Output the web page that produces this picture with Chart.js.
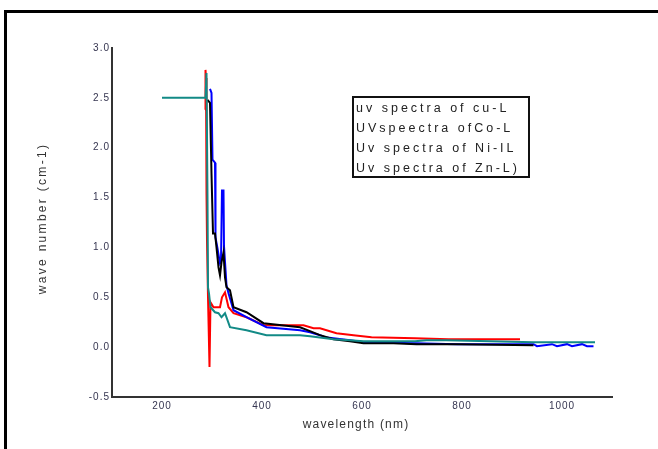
<!DOCTYPE html>
<html>
<head>
<meta charset="utf-8">
<script src="https://cdn.jsdelivr.net/npm/chart.js@4/dist/chart.umd.min.js"></script>
<style>
  html, body { margin: 0; padding: 0; background: #fff; }
  #wrap { width: 658px; height: 449px; position: relative; }
</style>
</head>
<body>
<div id="wrap"><canvas id="uv-chart"></canvas></div>
<script>
// wavelength (nm) / wave number values
const cuX = [291, 296, 299, 302, 306, 309, 313, 316, 319, 323, 326, 329, 336, 343, 369, 403, 476, 496, 516, 543, 576, 603, 663, 709, 789, 943];
const cuY = [2.48, 2.45, 1.74, 1.14, 1.14, 1.0, 0.80, 0.72, 0.85, 0.95, 0.70, 0.60, 0.57, 0.40, 0.35, 0.24, 0.20, 0.16, 0.12, 0.08, 0.06, 0.04, 0.04, 0.03, 0.03, 0.02];

const coX = [296, 299, 301, 306, 307, 311, 316, 318, 320, 323, 324, 329, 333, 343, 369, 409, 476, 496, 516, 526, 543, 576, 603, 709, 789, 943, 950, 980, 990, 1010, 1020, 1040, 1050, 1063];
const coY = [2.59, 2.55, 1.88, 1.85, 1.10, 0.99, 0.84, 0.86, 1.57, 1.57, 1.01, 0.62, 0.54, 0.37, 0.30, 0.20, 0.17, 0.15, 0.12, 0.10, 0.09, 0.07, 0.05, 0.04, 0.03, 0.03, 0.01, 0.03, 0.01, 0.03, 0.01, 0.03, 0.01, 0.01];

const niX = [286, 287, 288, 289, 290, 292, 295, 297, 303, 316, 320, 326, 333, 343, 369, 403, 483, 503, 516, 549, 583, 619, 706, 773, 916];
const niY = [2.38, 2.78, 2.70, 1.54, 1.07, 0.50, -0.20, 0.45, 0.40, 0.40, 0.50, 0.55, 0.40, 0.34, 0.30, 0.22, 0.22, 0.19, 0.19, 0.14, 0.12, 0.10, 0.09, 0.08, 0.08];

const znX = [200, 287, 289, 291, 292, 294, 297, 306, 313, 319, 326, 336, 369, 409, 476, 496, 543, 576, 603, 706, 729, 769, 943, 1066];
const znY = [2.50, 2.50, 2.75, 1.50, 0.60, 0.54, 0.40, 0.35, 0.34, 0.30, 0.34, 0.20, 0.17, 0.12, 0.12, 0.11, 0.08, 0.07, 0.06, 0.06, 0.07, 0.07, 0.05, 0.05];

const legendLabels = ['uv spectra of cu-L', 'UVspeectra ofCo-L', 'Uv spectra of Ni-IL', 'Uv spectra of Zn-L)'];
const xTicks = [200, 400, 600, 800, 1000];
const yMin = -0.5, yMax = 3.0, yStep = 0.5;

const FONT = '"Liberation Sans", Arial, sans-serif';

function pts(xs, ys) {
  return xs.map((x, i) => ({ x: x, y: ys[i] }));
}

function line(label, xs, ys, color) {
  return {
    label: label,
    data: pts(xs, ys),
    borderColor: color,
    borderWidth: 2,
    pointRadius: 0,
    tension: 0,
    fill: false
  };
}

// frame, axis titles and the boxed legend
const decor = {
  id: 'decor',
  beforeDraw(chart) {
    const c = chart.ctx;
    c.save();
    c.fillStyle = '#000';
    c.fillRect(4, 10, 3, 439);
    c.fillRect(4, 10, 654, 3);
    c.restore();
    c.letterSpacing = '1px';
  },
  afterDraw(chart) {
    const c = chart.ctx;
    const a = chart.chartArea;
    c.save();
    c.fillStyle = '#333';
    c.font = '12px ' + FONT;
    c.textAlign = 'center';
    c.textBaseline = 'middle';
    c.letterSpacing = '1.2px';
    c.fillText('wavelength (nm)', 356, 425);
    c.translate(43, (a.top + a.bottom) / 2 - 4);
    c.rotate(-Math.PI / 2);
    c.letterSpacing = '2.3px';
    c.fillText('wave number (cm-1)', 0, 0);
    c.restore();

    c.save();
    c.strokeStyle = '#111';
    c.lineWidth = 2;
    c.strokeRect(353, 97, 176, 80);
    c.fillStyle = '#222';
    c.font = '12.5px ' + FONT;
    c.textAlign = 'left';
    c.textBaseline = 'middle';
    c.letterSpacing = '3px';
    legendLabels.forEach((t, i) => c.fillText(t, 356, 109 + i * 20));
    c.restore();
  }
};

new Chart(document.getElementById('uv-chart'), {
  type: 'line',
  data: {
    datasets: [
      line(legendLabels[3], znX, znY, '#128a86'),
      line(legendLabels[0], cuX, cuY, '#000000'),
      line(legendLabels[1], coX, coY, '#0000ff'),
      line(legendLabels[2], niX, niY, '#ff0000')
    ]
  },
  options: {
    responsive: true,
    maintainAspectRatio: false,
    animation: false,
    layout: { padding: { top: 48, right: 46, left: 0, bottom: 0 } },
    plugins: {
      legend: { display: false },
      tooltip: { enabled: false }
    },
    scales: {
      x: {
        type: 'linear',
        min: 100,
        max: 1100,
        grid: { display: false, drawTicks: false },
        border: { display: true, color: '#333', width: 2 },
        afterBuildTicks: s => { s.ticks = xTicks.map(v => ({ value: v })); },
        afterFit: s => { s.height = 52; },
        ticks: {
          color: '#353550',
          font: { family: FONT, size: 10 },
          padding: 3,
          maxRotation: 0,
          callback: v => String(v)
        }
      },
      y: {
        min: yMin,
        max: yMax,
        grid: { display: false, drawTicks: false },
        border: { display: true, color: '#333', width: 2 },
        afterFit: s => { s.width = 112; },
        ticks: {
          stepSize: yStep,
          color: '#353550',
          font: { family: FONT, size: 10 },
          padding: 2,
          callback: v => Number(v).toFixed(1)
        }
      }
    }
  },
  plugins: [decor]
});
</script>
</body>
</html>
